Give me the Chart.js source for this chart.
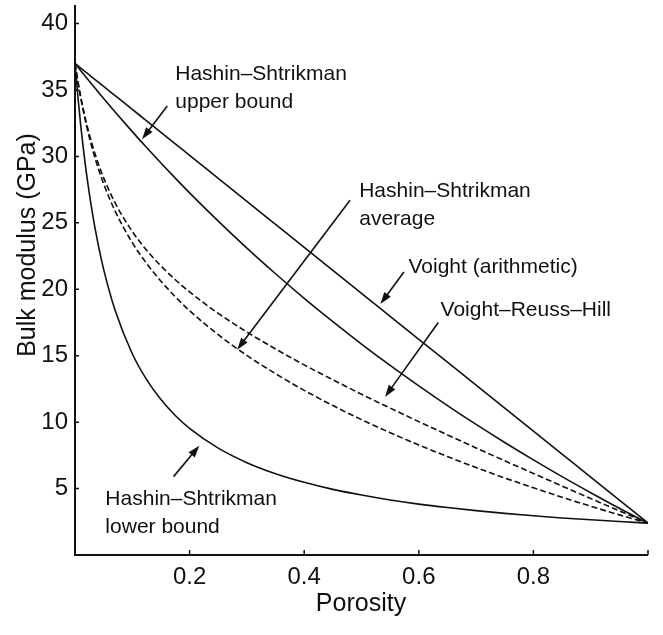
<!DOCTYPE html>
<html>
<head>
<meta charset="utf-8">
<script src="https://cdn.jsdelivr.net/npm/chart.js@4/dist/chart.umd.min.js"></script>
<style>
  html, body { margin: 0; padding: 0; background: #fff; }
  canvas { display: block; }
</style>
</head>
<body>
<canvas id="c" width="663" height="635"></canvas>
<script>
// ---- data ----
const porosity = [0, 0.005, 0.01, 0.02, 0.03, 0.04, 0.05, 0.07, 0.1, 0.125, 0.15, 0.175, 0.2,
  0.25, 0.3, 0.35, 0.4, 0.45, 0.5, 0.55, 0.6, 0.65, 0.7, 0.75, 0.8, 0.85, 0.9, 0.95, 1.0];
const voigt = [37, 36.83, 36.65, 36.31, 35.96, 35.62, 35.27, 34.58, 33.54, 32.68, 31.81, 30.95, 30.08,
  28.35, 26.62, 24.89, 23.16, 21.43, 19.70, 17.97, 16.24, 14.51, 12.78, 11.05, 9.32, 7.59, 5.86, 4.13, 2.40];
const hsUpper = [37, 36.73, 36.46, 35.93, 35.40, 34.88, 34.36, 33.35, 31.87, 30.67, 29.51, 28.37, 27.26,
  25.13, 23.10, 21.17, 19.32, 17.56, 15.88, 14.27, 12.73, 11.25, 9.83, 8.47, 7.16, 5.90, 4.69, 3.52, 2.40];
const vrh = [37, 35.67, 34.50, 32.51, 30.90, 29.54, 28.39, 26.50, 24.35, 22.94, 21.76, 20.72, 19.80,
  18.19, 16.78, 15.51, 14.31, 13.19, 12.10, 11.06, 10.04, 9.04, 8.06, 7.09, 6.14, 5.19, 4.25, 3.32, 2.40];
const hsAverage = [37, 35.62, 34.40, 32.33, 30.62, 29.18, 27.93, 25.89, 23.51, 21.94, 20.61, 19.44, 18.39,
  16.58, 15.02, 13.65, 12.39, 11.25, 10.19, 9.21, 8.28, 7.41, 6.58, 5.80, 5.06, 4.35, 3.67, 3.02, 2.40];
const hsLower = [37, 34.51, 32.34, 28.72, 25.83, 23.47, 21.50, 18.42, 15.15, 13.20, 11.70, 10.50, 9.53,
  8.04, 6.95, 6.12, 5.47, 4.94, 4.51, 4.14, 3.83, 3.57, 3.34, 3.13, 2.95, 2.79, 2.65, 2.52, 2.40];

const xTickValues = [0.2, 0.4, 0.6, 0.8, 1.0];
const xTickLabels = ['0.2', '0.4', '0.6', '0.8', ''];
const yTickValues = [5, 10, 15, 20, 25, 30, 35, 40];
const yTickLabels = ['5', '10', '15', '20', '25', '30', '35', '40'];

const xTitle = 'Porosity';
const yTitle = 'Bulk modulus (GPa)';

// annotation labels (in data coordinates)
const labels = [
  { lines: ['Hashin\u2013Shtrikman', 'upper bound'], at: [0.175, 36.2], arrow: [[0.161, 33.8], [0.117, 31.3]] },
  { lines: ['Hashin\u2013Shtrikman', 'average'], at: [0.496, 27.4], arrow: [[0.480, 26.7], [0.283, 15.45]] },
  { lines: ['Voight (arithmetic)'], at: [0.582, 21.7], arrow: [[0.574, 21.3], [0.533, 18.9]] },
  { lines: ['Voight\u2013Reuss\u2013Hill'], at: [0.638, 18.45], arrow: [[0.634, 17.5], [0.541, 11.9]] },
  { lines: ['Hashin\u2013Shtrikman', 'lower bound'], at: [0.053, 4.17], arrow: [[0.172, 5.9], [0.217, 8.23]] }
];

const FONT = '"Liberation Sans", Arial, Helvetica, sans-serif';
const INK = '#111';

function pts(ys) { return porosity.map((x, i) => ({ x: x, y: ys[i] })); }
function ds(ys, dashed) {
  return {
    data: pts(ys), showLine: true, pointRadius: 0, borderColor: INK, borderWidth: 1.6,
    borderDash: dashed ? [6, 3] : [], cubicInterpolationMode: 'monotone', fill: false
  };
}

const overlay = {
  id: 'overlay',
  afterDatasetsDraw(chart) {
    const { ctx, chartArea: a, scales: { x, y } } = chart;
    ctx.save();
    // axes
    ctx.strokeStyle = INK;
    ctx.lineWidth = 2;
    ctx.beginPath();
    ctx.moveTo(a.left, a.top);
    ctx.lineTo(a.left, a.bottom);
    ctx.lineTo(a.right, a.bottom);
    ctx.stroke();
    // inward ticks
    ctx.lineWidth = 1.5;
    ctx.beginPath();
    yTickValues.forEach(v => { const py = y.getPixelForValue(v); ctx.moveTo(a.left, py); ctx.lineTo(a.left + 4, py); });
    xTickValues.forEach(v => { const px = x.getPixelForValue(v); ctx.moveTo(px, a.bottom); ctx.lineTo(px, a.bottom - 5); });
    ctx.stroke();

    // titles
    ctx.fillStyle = INK;
    ctx.font = '25px ' + FONT;
    ctx.textAlign = 'center';
    ctx.textBaseline = 'middle';
    ctx.fillText(xTitle, (a.left + a.right) / 2 - 0.5, 604);
    ctx.save();
    ctx.translate(28, 245);
    ctx.rotate(-Math.PI / 2);
    ctx.fillText(yTitle, 0, 0);
    ctx.restore();

    // annotations
    ctx.font = '21px ' + FONT;
    ctx.textAlign = 'left';
    labels.forEach(l => {
      const tx = x.getPixelForValue(l.at[0]);
      const ty = y.getPixelForValue(l.at[1]);
      l.lines.forEach((t, i) => ctx.fillText(t, tx, ty + i * 28));
      const x1 = x.getPixelForValue(l.arrow[0][0]), y1 = y.getPixelForValue(l.arrow[0][1]);
      const x2 = x.getPixelForValue(l.arrow[1][0]), y2 = y.getPixelForValue(l.arrow[1][1]);
      const ang = Math.atan2(y2 - y1, x2 - x1);
      const hl = 12, hw = 4;
      ctx.lineWidth = 1.6;
      ctx.beginPath();
      ctx.moveTo(x1, y1);
      ctx.lineTo(x2 - Math.cos(ang) * hl * 0.8, y2 - Math.sin(ang) * hl * 0.8);
      ctx.stroke();
      ctx.beginPath();
      ctx.moveTo(x2, y2);
      ctx.lineTo(x2 - Math.cos(ang) * hl + Math.sin(ang) * hw, y2 - Math.sin(ang) * hl - Math.cos(ang) * hw);
      ctx.lineTo(x2 - Math.cos(ang) * hl - Math.sin(ang) * hw, y2 - Math.sin(ang) * hl + Math.cos(ang) * hw);
      ctx.closePath();
      ctx.fill();
    });
    ctx.restore();
  }
};

new Chart(document.getElementById('c'), {
  type: 'scatter',
  data: {
    datasets: [ds(voigt, false), ds(hsUpper, false), ds(vrh, true), ds(hsAverage, true), ds(hsLower, false)]
  },
  options: {
    responsive: false,
    animation: false,
    devicePixelRatio: 1,
    layout: { padding: { top: 5, right: 15, left: 0, bottom: 0 } },
    plugins: { legend: { display: false }, tooltip: { enabled: false } },
    scales: {
      x: {
        type: 'linear', min: 0, max: 1,
        afterFit: s => { s.height = 80; s.paddingLeft = 0; s.paddingRight = 0; },
        afterBuildTicks: s => { s.ticks = xTickValues.map(v => ({ value: v })); },
        grid: { display: false, drawTicks: false },
        border: { display: false },
        ticks: { padding: 8, color: INK, font: { family: FONT, size: 24 }, maxRotation: 0,
                 callback: (v, i) => xTickLabels[i] }
      },
      y: {
        type: 'linear', min: 0, max: 41.4,
        afterFit: s => { s.width = 75; s.paddingTop = 0; s.paddingBottom = 0; },
        afterBuildTicks: s => { s.ticks = yTickValues.map(v => ({ value: v })); },
        grid: { display: false, drawTicks: false },
        border: { display: false },
        ticks: { padding: 7, color: INK, font: { family: FONT, size: 24 },
                 callback: (v, i) => yTickLabels[i] }
      }
    }
  },
  plugins: [overlay]
});
</script>
</body>
</html>
